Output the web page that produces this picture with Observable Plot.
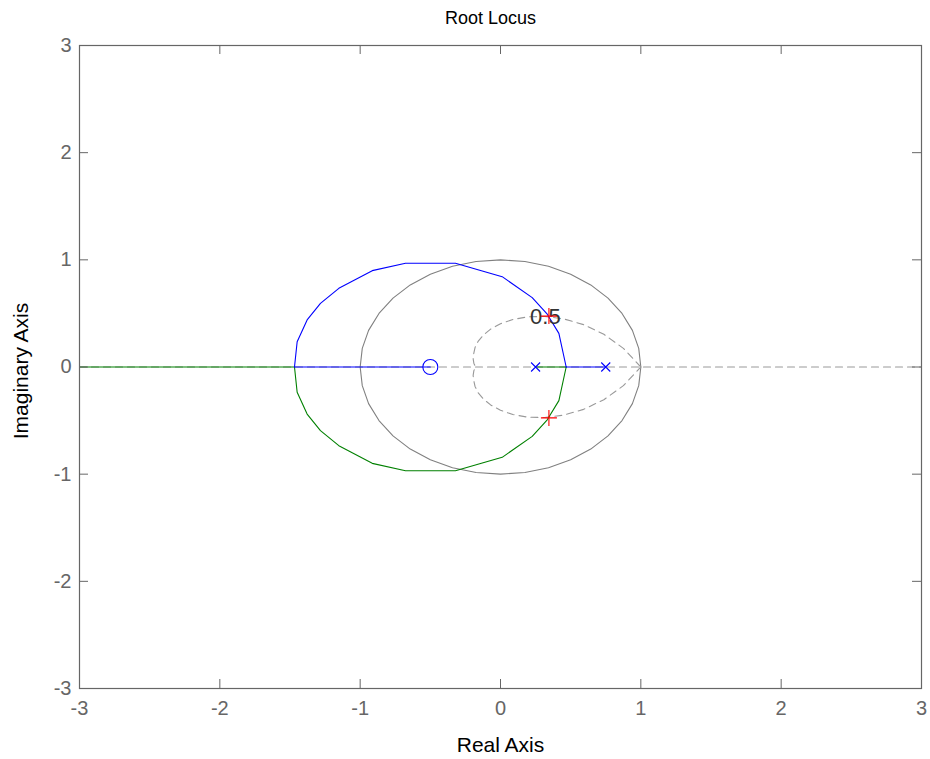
<!DOCTYPE html>
<html><head><meta charset="utf-8">
<script src="https://cdn.jsdelivr.net/npm/d3@7"></script>
<script src="https://cdn.jsdelivr.net/npm/@observablehq/plot@0.6"></script>
<style>body{margin:0;background:#fff}</style>
</head><body><div id="chart"></div>
<script>
// ---- data ----
const tickValues = [-3, -2, -1, 0, 1, 2, 3];
const innerTicks = [-2, -1, 0, 1, 2];

// upper locus branch (blue), break-in -> breakaway
const blueArcX = [-1.468, -1.449, -1.378, -1.283, -1.152, -0.914, -0.677, -0.321, 0.012, 0.226, 0.333, 0.416, 0.468];
const blueArcY = [0, 0.236, 0.439, 0.594, 0.734, 0.899, 0.968, 0.968, 0.843, 0.647, 0.493, 0.314, 0];
// lower locus branch (green)
const greenArcX = [-1.468, -1.449, -1.378, -1.283, -1.152, -0.914, -0.677, -0.321, 0.012, 0.226, 0.333, 0.416, 0.468];
const greenArcY = [0, -0.236, -0.439, -0.594, -0.734, -0.899, -0.968, -0.968, -0.843, -0.647, -0.493, -0.314, 0];
// real-axis locus segments
const blueRealA = [0.75, 0.468];
const blueRealB = [-1.468, -0.5];
const greenRealA = [0.25, 0.468];
const greenRealB = [-1.468, -3.2];

// unit circle (grid)
const circleX = [1, .985, .940, .866, .766, .643, .5, .342, .174, 0, -.174, -.342, -.5, -.643, -.766, -.866, -.940, -.985, -1, -.985, -.940, -.866, -.766, -.643, -.5, -.342, -.174, 0, .174, .342, .5, .643, .766, .866, .940, .985, 1];
const circleY = [0, .174, .342, .5, .643, .766, .866, .940, .985, 1, .985, .940, .866, .766, .643, .5, .342, .174, 0, -.174, -.342, -.5, -.643, -.766, -.866, -.940, -.985, -1, -.985, -.940, -.866, -.766, -.643, -.5, -.342, -.174, 0];

// damping ratio 0.5 curve (grid, dashed)
const zetaX = [1, 0.8757, 0.7365, 0.5918, 0.4494, 0.3152, 0.1938, 0.0882, 0, -0.0703, -0.1232, -0.1597, -0.1815, -0.1905, -0.1950, -0.1900, -0.178,
               -0.1900, -0.1950, -0.1905, -0.1815, -0.1597, -0.1232, -0.0703, 0, 0.0882, 0.1938, 0.3152, 0.4494, 0.5918, 0.7365, 0.8757, 1];
const zetaY = [0, 0.1742, 0.3051, 0.3954, 0.4494, 0.4717, 0.4680, 0.4435, 0.4038, 0.3536, 0.2974, 0.2390, 0.1815, 0.1273, 0.0783, 0.0356, 0,
               -0.0356, -0.0783, -0.1273, -0.1815, -0.2390, -0.2974, -0.3536, -0.4038, -0.4435, -0.4680, -0.4717, -0.4494, -0.3954, -0.3051, -0.1742, 0];
const zetaLabel = "0.5";
const zetaLabelX = 0.32, zetaLabelY = 0.47;

const realAxisX = [-3, 3];
const polesX = [0.25, 0.75];
const zerosX = [-0.5];
const selectedX = [0.345, 0.345];
const selectedY = [0.475, -0.475];

// ---- build tables ----
const zip = (xs, ys) => xs.map((x, i) => ({x, y: ys[i]}));
const onAxis = xs => xs.map(x => ({x, y: 0}));

const plusSym = {draw(ctx, size) { const r = Math.sqrt(size / Math.PI); ctx.moveTo(-r, 0); ctx.lineTo(r, 0); ctx.moveTo(0, -r); ctx.lineTo(0, r); }};
const timesSym = {draw(ctx, size) { const r = Math.sqrt(size / Math.PI); ctx.moveTo(-r, -r); ctx.lineTo(r, r); ctx.moveTo(-r, r); ctx.lineTo(r, -r); }};

const FONT = "'Liberation Sans', Arial, sans-serif";
const gridGray = "#999999";

const chart = Plot.plot({
  width: 930, height: 759,
  marginLeft: 79, marginRight: 9, marginTop: 45, marginBottom: 71,
  x: {domain: [-3, 3]},
  y: {domain: [-3, 3]},
  style: {fontFamily: FONT, background: "white", overflow: "visible"},
  marks: [
    // grid
    Plot.line(onAxis(realAxisX), {x: "x", y: "y", stroke: gridGray, strokeWidth: 1.2, strokeDasharray: "7,5"}),
    Plot.line(zip(circleX, circleY), {x: "x", y: "y", stroke: "#808080", strokeWidth: 1.1}),
    Plot.line(zip(zetaX, zetaY), {x: "x", y: "y", stroke: gridGray, strokeWidth: 1.1, strokeDasharray: "7,5"}),
    // locus
    Plot.line(onAxis(greenRealB), {x: "x", y: "y", stroke: "#008000", strokeWidth: 1.1, clip: true}),
    Plot.line(onAxis(greenRealA), {x: "x", y: "y", stroke: "#008000", strokeWidth: 1.1}),
    Plot.line(zip(greenArcX, greenArcY), {x: "x", y: "y", stroke: "#008000", strokeWidth: 1.1}),
    Plot.line(onAxis(blueRealA), {x: "x", y: "y", stroke: "#0000ff", strokeWidth: 1.1}),
    Plot.line(onAxis(blueRealB), {x: "x", y: "y", stroke: "#0000ff", strokeWidth: 1.1}),
    Plot.line(zip(blueArcX, blueArcY), {x: "x", y: "y", stroke: "#0000ff", strokeWidth: 1.1}),
    // poles / zeros
    Plot.dot(onAxis(polesX), {x: "x", y: "y", symbol: timesSym, r: 4.5, fill: "none", stroke: "#0000ff", strokeWidth: 1.1}),
    Plot.dot(onAxis(zerosX), {x: "x", y: "y", symbol: "circle", r: 7.5, fill: "none", stroke: "#0000ff", strokeWidth: 1.1}),
    // damping label and selected points
    Plot.text([zetaLabel], {x: () => zetaLabelX, y: () => zetaLabelY, text: d => d, fontSize: 22, fill: "#333"}),
    Plot.dot(zip(selectedX, selectedY), {x: "x", y: "y", symbol: plusSym, r: 8, fill: "none", stroke: "#ff0000", strokeWidth: 1.1}),
    // frame & ticks
    Plot.frame({stroke: "#666", strokeWidth: 1.2}),
    Plot.tickX(innerTicks, {x: d => d, insetTop: 634, stroke: "#666"}),
    Plot.tickX(innerTicks, {x: d => d, insetBottom: 634, stroke: "#666"}),
    Plot.tickY(innerTicks, {y: d => d, insetRight: 833, stroke: "#666"}),
    Plot.tickY(innerTicks, {y: d => d, insetLeft: 833, stroke: "#666"}),
    Plot.axisX(tickValues, {anchor: "bottom", tickSize: 0, tickPadding: 12, fontSize: 20, color: "#666", label: null, tickFormat: d => String(d)}),
    Plot.axisY(tickValues, {anchor: "left", tickSize: 0, tickPadding: 8, fontSize: 20, color: "#666", label: null, tickFormat: d => String(d)}),
    // titles
    Plot.text(["Root Locus"], {frameAnchor: "top", dx: -10, dy: -27, lineAnchor: "middle", fontSize: 18, fill: "black"}),
    Plot.text(["Real Axis"], {frameAnchor: "bottom", dy: 57, lineAnchor: "middle", fontSize: 21, fill: "black"}),
    Plot.text(["Imaginary Axis"], {frameAnchor: "left", dx: -58, dy: 4, rotate: -90, textAnchor: "middle", lineAnchor: "middle", fontSize: 21, fill: "black"})
  ]
});
document.getElementById("chart").appendChild(chart);
</script>
</body></html>
